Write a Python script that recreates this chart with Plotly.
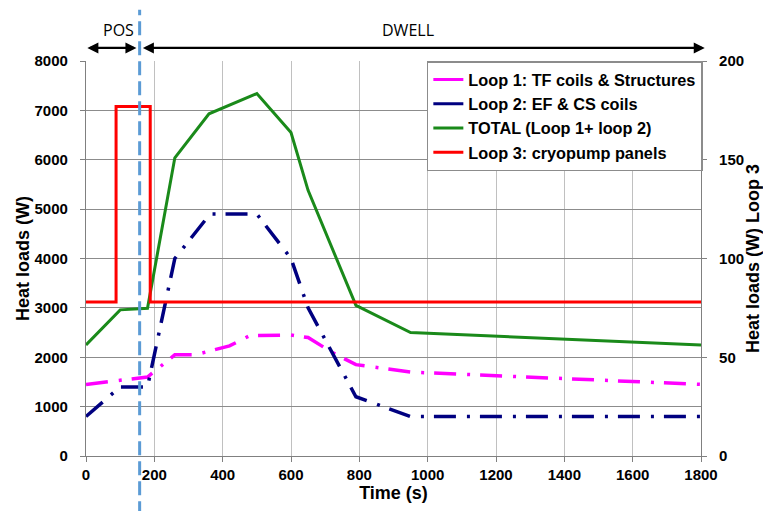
import plotly.graph_objects as go

# ---- data ----
t_loop1 = [0, 180, 260, 320, 420, 480, 600, 650, 720, 790, 950, 1800]
loop1 = [1450, 1600, 2050, 2050, 2230, 2440, 2450, 2400, 2100, 1850, 1700, 1450]

t_loop2 = [0, 100, 180, 260, 363, 500, 600, 650, 790, 950, 1800]
loop2 = [800, 1400, 1400, 4000, 4900, 4900, 4000, 3000, 1200, 800, 800]

t_total = [0, 100, 180, 260, 360, 500, 600, 650, 790, 950, 1800]
total = [2250, 2960, 2990, 6040, 6930, 7340, 6550, 5380, 3050, 2500, 2250]

t_loop3 = [0, 88, 88, 188, 188, 1800]
loop3 = [78, 78, 177, 177, 78, 78]

t_split = 157  # POS / DWELL boundary (s)

names = ["Loop 1: TF coils & Structures", "Loop 2: EF & CS coils",
         "TOTAL (Loop 1+ loop 2)", "Loop 3: cryopump panels"]
colors = ["#FF00FF", "#000080", "#1A8A1A", "#FF0000"]

FONT = "Liberation Sans, Arial, sans-serif"
dashdot = "22px,11px,3px,10px"

fig = go.Figure()
fig.add_trace(go.Scatter(x=t_loop1, y=loop1, mode="lines", showlegend=False,
                         line=dict(color=colors[0], width=3.5, dash=dashdot)))
fig.add_trace(go.Scatter(x=t_loop2, y=loop2, mode="lines", showlegend=False,
                         line=dict(color=colors[1], width=3.5, dash=dashdot)))
fig.add_trace(go.Scatter(x=t_total, y=total, mode="lines", showlegend=False,
                         line=dict(color=colors[2], width=3)))
fig.add_trace(go.Scatter(x=t_loop3, y=loop3, mode="lines", showlegend=False,
                         yaxis="y2", line=dict(color=colors[3], width=3)))
# legend entries (solid swatches as in the reference)
for n, c in zip(names, colors):
    fig.add_trace(go.Scatter(x=[None], y=[None], mode="lines", name=n,
                             line=dict(color=c, width=3)))

fig.add_shape(type="line", xref="x", yref="paper", x0=t_split, x1=t_split,
              y0=-0.15, y1=1.13, line=dict(color="#5B9BD5", width=3, dash="14px,6px"))

ann_y = 1.033
fig.add_annotation(xref="x", yref="paper", x=4, y=ann_y, axref="x", ax=t_split - 5,
                   ayref="pixel", ay=0, text="", showarrow=True, arrowside="end+start",
                   arrowhead=2, arrowsize=1, arrowwidth=2.2, arrowcolor="black")
fig.add_annotation(xref="x", yref="paper", x=1811, y=ann_y, axref="x", ax=t_split + 5,
                   ayref="pixel", ay=0, text="", showarrow=True, arrowside="end+start",
                   arrowhead=2, arrowsize=1, arrowwidth=2.2, arrowcolor="black")
lblfont = dict(family="Open Sans, Liberation Sans, sans-serif", size=16, color="black")
fig.add_annotation(xref="x", yref="paper", x=94, y=1.078, yanchor="middle",
                   text="POS", showarrow=False, font=lblfont)
fig.add_annotation(xref="x", yref="paper", x=942, y=1.078, yanchor="middle",
                   text="DWELL", showarrow=False, font=lblfont)

tickfont = dict(family=FONT, size=15, color="black", weight="bold")
titlefont = dict(family=FONT, size=18, color="black", weight="bold")

fig.update_layout(
    width=763, height=511,
    margin=dict(l=86, r=62, t=61, b=55),
    paper_bgcolor="white", plot_bgcolor="white",
    font=dict(family=FONT, color="black"),
    xaxis=dict(range=[0, 1800], dtick=200, tick0=0, showgrid=True, gridcolor="#C0C0C0",
               gridwidth=1.2, showline=True, linecolor="#808080", linewidth=1.2,
               ticks="outside", ticklen=5, tickcolor="#808080", tickfont=tickfont,
               zeroline=False, automargin=False,
               title=dict(text="Time (s)", font=titlefont, standoff=2)),
    yaxis=dict(range=[0, 8000], dtick=1000, showgrid=True, gridcolor="#8C8C8C",
               gridwidth=1.2, showline=True, linecolor="#808080", linewidth=1.2,
               ticks="outside", ticklen=5, tickcolor="#808080", tickfont=tickfont,
               zeroline=False, ticklabelstandoff=9, automargin=False,
               title=dict(text="Heat loads (W)", font=titlefont, standoff=0)),
    yaxis2=dict(range=[0, 200], dtick=50, overlaying="y", side="right", showgrid=False,
                showline=True, linecolor="#808080", linewidth=1.2, ticks="outside",
                ticklen=5, tickcolor="#808080", tickfont=tickfont, zeroline=False,
                ticklabelstandoff=9, automargin=False,
                title=dict(text="Heat loads (W) Loop 3", font=titlefont, standoff=3)),
    legend=dict(x=1.003, xanchor="right", y=1.0, yanchor="top", bgcolor="white",
                bordercolor="#8C8C8C", borderwidth=1.5,
                font=dict(family=FONT, size=16.3, color="black", weight="bold"),
                tracegroupgap=0, itemwidth=30),
)

fig.write_html("out.html", config={"displayModeBar": False},
               post_script="document.body.style.margin='0';")
